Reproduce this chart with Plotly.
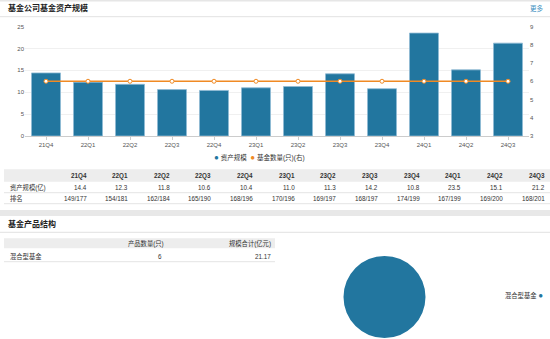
import plotly.graph_objects as go

# ---------------- data ----------------
quarters = ['21Q4', '22Q1', '22Q2', '22Q3', '22Q4', '23Q1', '23Q2', '23Q3',
            '23Q4', '24Q1', '24Q2', '24Q3']
asset_scale = [14.4, 12.3, 11.8, 10.6, 10.4, 11.0, 11.3, 14.2, 10.8, 23.5, 15.1, 21.2]
fund_count = [6, 6, 6, 6, 6, 6, 6, 6, 6, 6, 6, 6]
rank_text = ['149/177', '154/181', '162/184', '165/190', '168/196', '170/196',
             '169/197', '168/197', '174/199', '167/199', '169/200', '168/201']

series_names = ['资产规模', '基金数量(只)(右)']
row_labels = ['资产规模(亿)', '排名']

product_types = ['混合型基金']
product_counts = [6]
product_scale = [21.17]
product_headers = ['产品数量(只)', '规模合计(亿元)']

title1 = '基金公司基金资产规模'
title2 = '基金产品结构'
more_text = '更多'

# ---------------- style ----------------
W, H = 550, 339
BLUE = '#22769f'
ORANGE = '#f08a24'
FONT = 'Liberation Sans, Arial, Noto Sans CJK SC, sans-serif'
TXT = '#333333'
GRID = '#f0f0f0'


def px(x):
    return x / W


def py(y):
    return 1 - y / H


fig = go.Figure()

fig.add_trace(go.Bar(
    x=quarters, y=asset_scale, name=series_names[0],
    marker=dict(color=BLUE, line=dict(color='#8fbad4', width=0.8)),
    showlegend=False, yaxis='y'))

fig.add_trace(go.Scatter(
    x=quarters, y=fund_count, name=series_names[1], mode='lines+markers',
    line=dict(color=ORANGE, width=1.3),
    marker=dict(size=4, color='white', line=dict(color=ORANGE, width=1)),
    showlegend=False, yaxis='y2'))

fig.add_trace(go.Pie(
    labels=product_types, values=product_scale, textinfo='none',
    marker=dict(colors=[BLUE], line=dict(width=0)), sort=False,
    domain=dict(x=[px(343), px(426)], y=[py(338), py(256)]),
    showlegend=False, hoverinfo='label+value'))

shapes = []
annotations = []

# top border and header lines
shapes.append(dict(type='rect', xref='paper', yref='paper', x0=0, x1=1,
                   y0=py(1.5), y1=py(0), line=dict(width=0), fillcolor='#e6e6e6'))
shapes.append(dict(type='line', xref='paper', yref='paper', x0=0, x1=1,
                   y0=py(16.7), y1=py(16.7), line=dict(color='#e2e2e2', width=1)))

annotations.append(dict(text='<b>' + title1 + '</b>', x=px(6), y=py(8.5), xref='paper',
                        yref='paper', xanchor='left', yanchor='middle', showarrow=False,
                        font=dict(size=8, color='#222', family=FONT)))
annotations.append(dict(text=more_text, x=px(546), y=py(8.5), xref='paper', yref='paper',
                        xanchor='right', yanchor='middle', showarrow=False,
                        font=dict(size=6.5, color='#3d8fbf', family=FONT)))

# chart legend
legend_text = ('<span style="color:%s;font-size:8px">●</span> %s  '
               '<span style="color:%s;font-size:8px">●</span> %s'
               % (BLUE, series_names[0], ORANGE, series_names[1]))
annotations.append(dict(text=legend_text, x=px(259), y=py(157.7), xref='paper', yref='paper',
                        xanchor='center', yanchor='middle', showarrow=False,
                        font=dict(size=6.5, color=TXT, family=FONT)))

# ---------------- table 1 ----------------
shapes.append(dict(type='rect', xref='paper', yref='paper', x0=px(4), x1=1,
                   y0=py(181.7), y1=py(169.3), line=dict(width=0), fillcolor='#ededed'))
for yl in [192.7, 203.7]:
    shapes.append(dict(type='line', xref='paper', yref='paper', x0=px(4), x1=1,
                       y0=py(yl), y1=py(yl), line=dict(color='#e4e4e4', width=1)))

col_right = [88.5 + 41.65 * k for k in range(len(quarters))]
row_y = [187.7, 198.3]
for k, q in enumerate(quarters):
    annotations.append(dict(text='<b>' + q + '</b>', x=px(col_right[k]), y=py(176),
                            xref='paper', yref='paper', xanchor='right', yanchor='middle',
                            showarrow=False, font=dict(size=6.3, color=TXT, family=FONT)))
    annotations.append(dict(text='%.1f' % asset_scale[k], x=px(col_right[k]), y=py(row_y[0]),
                            xref='paper', yref='paper', xanchor='right', yanchor='middle',
                            showarrow=False, font=dict(size=6.3, color=TXT, family=FONT)))
    annotations.append(dict(text=rank_text[k], x=px(col_right[k]), y=py(row_y[1]),
                            xref='paper', yref='paper', xanchor='right', yanchor='middle',
                            showarrow=False, font=dict(size=6.3, color=TXT, family=FONT)))
for r, lab in enumerate(row_labels):
    annotations.append(dict(text=lab, x=px(8), y=py(row_y[r]), xref='paper', yref='paper',
                            xanchor='left', yanchor='middle', showarrow=False,
                            font=dict(size=6.3, color=TXT, family=FONT)))

# section separator
shapes.append(dict(type='rect', xref='paper', yref='paper', x0=0, x1=1,
                   y0=py(216), y1=py(210), line=dict(width=0), fillcolor='#e8e8e8'))
shapes.append(dict(type='line', xref='paper', yref='paper', x0=0, x1=1,
                   y0=py(232.3), y1=py(232.3), line=dict(color='#e2e2e2', width=1)))
annotations.append(dict(text='<b>' + title2 + '</b>', x=px(6), y=py(224), xref='paper',
                        yref='paper', xanchor='left', yanchor='middle', showarrow=False,
                        font=dict(size=8, color='#222', family=FONT)))

# ---------------- table 2 ----------------
shapes.append(dict(type='rect', xref='paper', yref='paper', x0=px(4), x1=px(275),
                   y0=py(248.3), y1=py(238.3), line=dict(width=0), fillcolor='#ededed'))
shapes.append(dict(type='line', xref='paper', yref='paper', x0=px(4), x1=px(275),
                   y0=py(261.7), y1=py(261.7), line=dict(color='#e4e4e4', width=1)))
t2_right = [165.5, 272.5]
for j, h in enumerate(product_headers):
    annotations.append(dict(text=h, x=px(t2_right[j]), y=py(243.3), xref='paper', yref='paper',
                            xanchor='right', yanchor='middle', showarrow=False,
                            font=dict(size=6.3, color=TXT, family=FONT)))
for i, pt in enumerate(product_types):
    yy = py(256.7 + 11 * i)
    annotations.append(dict(text=pt, x=px(8), y=yy, xref='paper', yref='paper',
                            xanchor='left', yanchor='middle', showarrow=False,
                            font=dict(size=6.3, color=TXT, family=FONT)))
    annotations.append(dict(text=str(product_counts[i]), x=px(t2_right[0] - 2), y=yy,
                            xref='paper', yref='paper', xanchor='right', yanchor='middle',
                            showarrow=False, font=dict(size=6.3, color=TXT, family=FONT)))
    annotations.append(dict(text='%.2f' % product_scale[i], x=px(t2_right[1]), y=yy,
                            xref='paper', yref='paper', xanchor='right', yanchor='middle',
                            showarrow=False, font=dict(size=6.3, color=TXT, family=FONT)))

# pie legend
annotations.append(dict(text='%s <span style="color:%s;font-size:8px">●</span>'
                        % (product_types[0], BLUE),
                        x=px(545), y=py(295.5), xref='paper', yref='paper',
                        xanchor='right', yanchor='middle', showarrow=False,
                        font=dict(size=6.3, color=TXT, family=FONT)))

fig.update_layout(
    width=W, height=H, margin=dict(l=0, r=0, t=0, b=0, autoexpand=False),
    paper_bgcolor='white', plot_bgcolor='white',
    font=dict(family=FONT, size=6.3, color='#555'),
    bargap=0.31,
    xaxis=dict(domain=[px(25), px(529)], type='category', showline=True,
               range=[-0.5, len(quarters) - 0.5],
               linecolor='#cccccc', linewidth=1, ticks='outside', ticklen=3,
               tickcolor='#cccccc', tickfont=dict(size=6, color='#555'), showgrid=False,
               fixedrange=True, automargin=False),
    yaxis=dict(domain=[py(136), py(26.5)], range=[0, 25], dtick=5, showgrid=True,
               gridcolor=GRID, gridwidth=1, zeroline=False, showline=False,
               tickfont=dict(size=6, color='#555'), fixedrange=True, automargin=False),
    yaxis2=dict(overlaying='y', side='right', range=[3, 9], dtick=1, showgrid=False,
                zeroline=False, showline=False, tickfont=dict(size=6, color='#555'),
                fixedrange=True, automargin=False),
    shapes=shapes, annotations=annotations, showlegend=False,
)

fig.write_html('out.html')
